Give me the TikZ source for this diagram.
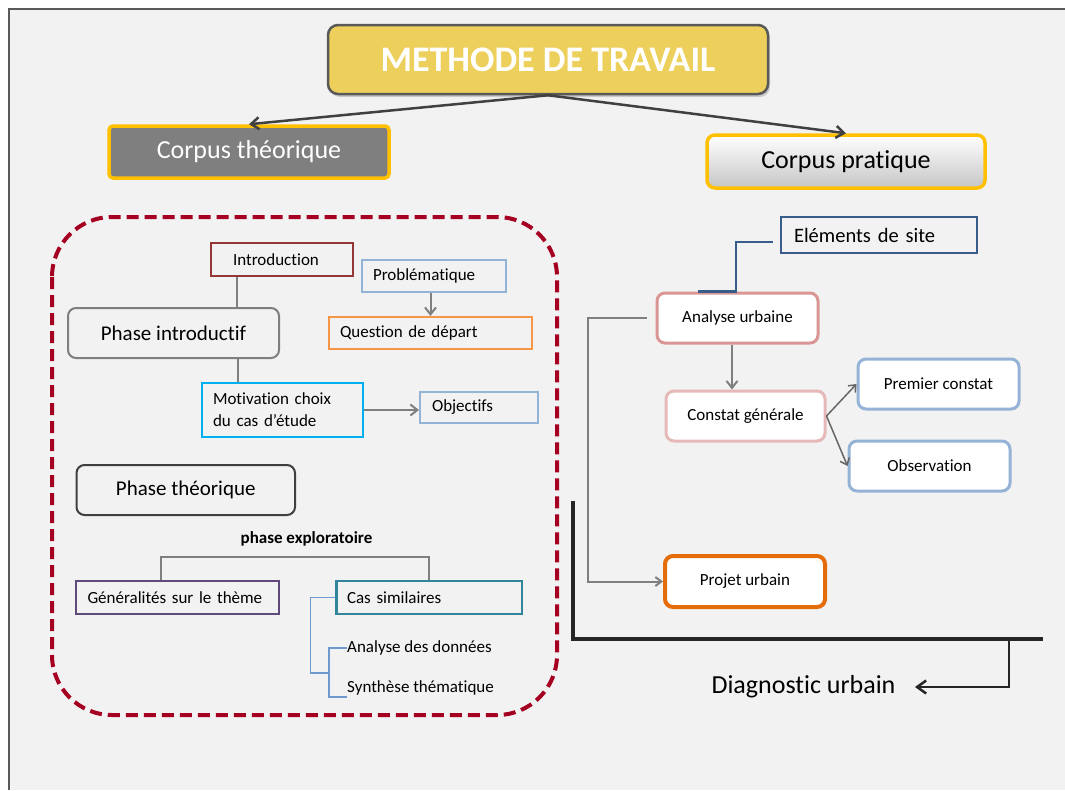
\documentclass[tikz,border=0pt]{standalone}
\usepackage{fontspec}
\setmainfont{Carlito}[Ligatures=CommonOff]
\usetikzlibrary{arrows.meta,shadows}

\definecolor{fond}{HTML}{F2F2F2}
\definecolor{cadre}{HTML}{595959}
\definecolor{doree}{HTML}{FFC000}
\definecolor{titre}{HTML}{EDCF5B}
\definecolor{lgris}{HTML}{7F7F7F}
\definecolor{dgris}{HTML}{404040}
\definecolor{bordeaux}{HTML}{A50021}
\definecolor{brique}{HTML}{953735}
\definecolor{bleuclair}{HTML}{95B3D7}
\definecolor{orangeclair}{HTML}{F79646}
\definecolor{cyan}{HTML}{00B0F0}
\definecolor{violet}{HTML}{604A7B}
\definecolor{canard}{HTML}{31849B}
\definecolor{bleufil}{HTML}{6F9AD0}
\definecolor{bleusite}{HTML}{385D8A}
\definecolor{rosefort}{HTML}{D99694}
\definecolor{rosepale}{HTML}{E6B9B8}
\definecolor{orangefort}{HTML}{E46C0A}
\definecolor{noirL}{HTML}{262626}

\begin{document}
\begin{tikzpicture}[x=1pt,y=-1pt,
  font=\fontsize{17}{21}\selectfont,
  sbox/.style={draw,line width=2pt,align=left,inner sep=0pt},
  rbox/.style={draw,line width=3pt,rounded corners=8pt,fill=white,
    minimum width=161pt,minimum height=50pt},
  phasebox/.style={draw,line width=2pt,rounded corners=8pt,
    font=\fontsize{21}{25}\selectfont},
  corpus/.style={draw=doree,line width=3.5pt,minimum width=280pt,
    minimum height=52pt,font=\fontsize{26}{30}\selectfont},
  conn/.style={lgris,line width=2pt},
  arr/.style={conn,-{Straight Barb[length=7pt,width=11pt]}},
  bigarr/.style={dgris,line width=2.5pt,-{Straight Barb[length=8pt,width=12pt]}},
  subline/.style={bleufil,line width=1.2pt}]

\useasboundingbox (0,0) rectangle (1065,790);
\fill[white] (0,0) rectangle (1065,790);
\fill[fond] (9,9) rectangle (1065,790);
\draw[cadre,line width=2pt] (9,790) -- (9,9) -- (1065,9);

\node[draw=cadre,line width=2.5pt,fill=titre,rounded corners=10pt,
  minimum width=440pt,minimum height=69pt,text=white,
  font=\bfseries\fontsize{36}{40}\selectfont,
  drop shadow={shadow xshift=2pt,shadow yshift=-3pt,opacity=0.35}]
  (title) at (548,59.5) {METHODE DE TRAVAIL};

\node[corpus,fill=lgris,text=white,rounded corners=4pt] (ctheo) at (249,152) {Corpus théorique};
\node[corpus,top color=white,bottom color=gray!45,rounded corners=8pt,
  minimum width=278pt,minimum height=53pt] (cprat) at (846,161.5) {Corpus pratique};

\foreach \c in {ctheo,cprat}{
\draw[bigarr] (title.south) -- (\c.north);
}

\draw[bordeaux,line width=4pt,dash pattern=on 12pt off 6pt,rounded corners=60pt]
  (52,217) rectangle (557,715);

\node[sbox,draw=brique,minimum width=142pt,minimum height=33pt,text width=98pt]
  (intro) at (282,259.5) {Introduction};
\node[sbox,draw=bleuclair,minimum width=144pt,minimum height=32pt,text width=122pt]
  (probl) at (434,276) {Problématique};
\node[sbox,draw=orangeclair,minimum width=203pt,minimum height=32pt,text width=181pt]
  (quest) at (430.5,333) {Question de départ};
\node[phasebox,draw=lgris,minimum width=211pt,minimum height=50pt]
  (phint) at (173.5,333) {Phase introductif};
\node[sbox,draw=cyan,line width=2.5pt,minimum width=161pt,minimum height=54pt,
  text width=139pt,font=\fontsize{17}{22}\selectfont]
  (motiv) at (282.5,410) {Motivation choix\\du cas d’étude};
\node[sbox,draw=bleuclair,minimum width=118pt,minimum height=31pt,text width=94pt]
  (obj) at (479,407.5) {Objectifs};

\draw[conn] ([xshift=-45]intro.south) -- ([xshift=-45]intro.south |- phint.north);
\draw[conn] ([xshift=-45]motiv.north) -- ([xshift=-45]motiv.north |- phint.south);
\draw[arr] (probl.south -| quest.north) -- (quest.north);
\draw[arr] (motiv.east) -- (motiv.east -| obj.west);

\node[phasebox,draw=dgris,minimum width=218.5pt,minimum height=50pt]
  (phth) at (185.75,490) {Phase théorique};
\node[font=\bfseries\fontsize{17}{21}\selectfont] (explo) at (306.5,539) {phase exploratoire};

\node[sbox,draw=violet,minimum width=203.5pt,minimum height=33pt,text width=179.5pt]
  (gen) at (177.25,597.5) {Généralités sur le thème};
\node[sbox,draw=canard,line width=2.5pt,minimum width=185.4pt,minimum height=33pt,
  text width=164.6pt] (cas) at (429.3,597.5) {Cas similaires};
\node[anchor=west,inner sep=0pt] (ana) at (347,648) {Analyse des données};
\node[anchor=west,inner sep=0pt] (syn) at (347,688) {Synthèse thématique};

\draw[conn] ([xshift=-16]gen.north) -- ++(0,-23) -| (cas.north);

\coordinate (jn) at (329,673);
\draw[subline] (cas.west) -- ++(-24.6,0) |- (jn);
\draw[subline] (ana.west) -| (jn) |- ([yshift=-9]syn.west);

% corpus pratique
\node[sbox,draw=bleusite,line width=2.5pt,minimum width=196pt,minimum height=36pt,
  text width=170pt,font=\fontsize{20.5}{24}\selectfont] (elem) at (879,235) {Eléments de site};
\node[rbox,draw=rosefort] (anaurb) at (737.5,318) {Analyse urbaine};
\node[rbox,draw=rosepale,minimum width=159pt] (constat) at (745.5,416) {Constat générale};
\node[rbox,draw=bleuclair] (prem) at (938.5,384) {Premier constat};
\node[rbox,draw=bleuclair] (obs) at (929.5,466) {Observation};
\node[rbox,draw=orangefort,line width=4pt,minimum width=160pt,minimum height=51pt]
  (projet) at (745,581.5) {Projet urbain};

\draw[bleusite,line width=2.5pt] ([xshift=-7pt,yshift=-7pt]elem.west) -| ([xshift=-1.5]anaurb.north)
  -- ([xshift=-40]anaurb.north);
\draw[arr] ([xshift=-5.5]anaurb.south) -- ([xshift=-5.5]anaurb.south |- constat.north);
\foreach \t in {prem,obs}{
\draw[dgris!80,line width=1.5pt,-{Straight Barb[length=6pt,width=10pt]}] (constat.east) -- (\t.west);
}
\draw[conn,-{Straight Barb[length=6pt,width=9pt]}] ([xshift=-9]anaurb.west) -- ++(-59,0) |- (projet.west);

\node[font=\fontsize{26}{30}\selectfont] (diag) at (803.5,687) {Diagnostic urbain};

\draw[noirL,line width=4pt] (573,501) -- (573,639) -- (1043,639);
\draw[noirL,line width=2.5pt,-{Straight Barb[length=9pt,width=13pt]}]
  (1009,639) |- ([xshift=16]diag.east);

\end{tikzpicture}
\end{document}
